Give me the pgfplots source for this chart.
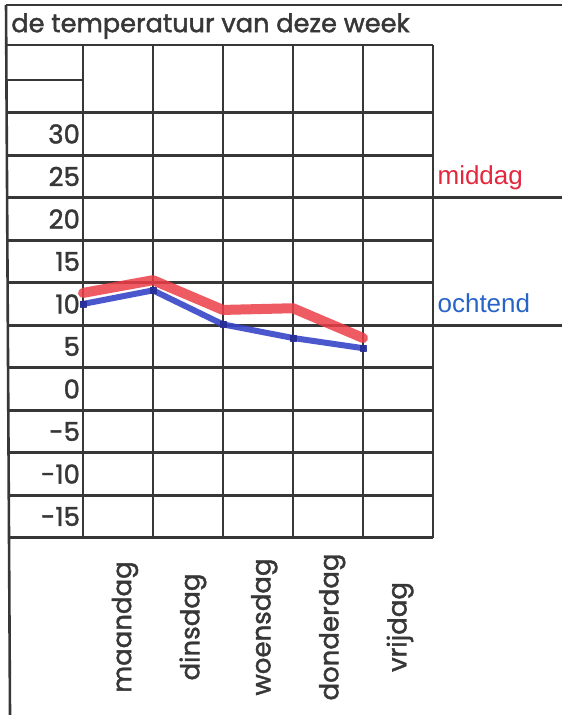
\documentclass[border=0pt]{standalone}
\usepackage{pgfplots}
\pgfplotsset{compat=1.18}
\usepackage{fontspec}
\setmainfont{Poppins}[FakeBold=1.6]
\newfontfamily\arialfont{Liberation Sans}
\definecolor{gridc}{RGB}{55,55,55}
\definecolor{txtc}{RGB}{55,55,55}
\definecolor{redline}{RGB}{236,62,72}
\definecolor{blueline}{RGB}{55,70,200}
\definecolor{bluemark}{RGB}{40,45,150}
\definecolor{redtxt}{RGB}{228,38,62}
\definecolor{bluetxt}{RGB}{40,100,200}
\begin{document}
\begin{tikzpicture}
\useasboundingbox (0,0) rectangle (281pt,357.5pt);
\begin{axis}[
  at={(0,0)}, anchor=south west,
  scale only axis, width=281pt, height=357.5pt,
  xmin=-1.186, xmax=6.843, ymin=-38.35, ymax=45.76,
  axis line style={draw=none},
  major tick length=0pt,
  clip=false,
  xtick={0.6,1.57,2.59,3.56,4.53},
  xticklabels={maandag,dinsdag,woensdag,donderdag,vrijdag},
  xticklabel style={yshift=44pt, rotate=90, anchor=center, text=txtc, font=\fontsize{13pt}{15pt}\selectfont},
  ytick={30,25,20,15,10,5,0,-5,-10,-15},
  yticklabels={30,25,20,15,10,5,0,-5,-10,-15},
  yticklabel style={anchor=east, xshift=43.5pt, text=txtc, font=\fontsize{13pt}{15pt}\selectfont},
]
% frame and grid
\draw[gridc, line width=1.3pt] (axis cs:-1.1,45.18) -- (axis cs:6.843,45.18);
\draw[gridc, line width=1.3pt] (axis cs:-1.1,45.18) -- (axis cs:-1.043,-38.35);
\draw[gridc, line width=1.3pt] (axis cs:-1.08,40.47) -- (axis cs:5,40.47);
\draw[gridc, line width=1.3pt] (axis cs:-1.08,36.35) -- (axis cs:0,36.35);
\pgfplotsinvokeforeach{32.5,27.5,17.5,12.5,2.5,-2.5,-7.5,-12.5,-17.5}{
  \draw[gridc, line width=1.3pt] (axis cs:-1.07,#1) -- (axis cs:5,#1);
}
\pgfplotsinvokeforeach{22.5,7.5}{
  \draw[gridc, line width=1.3pt] (axis cs:-1.07,#1) -- (axis cs:6.843,#1);
}
\pgfplotsinvokeforeach{0,1,2,3,4,5}{
  \draw[gridc, line width=1.3pt] (axis cs:#1,40.47) -- (axis cs:#1,-17.5);
}
% data
\addplot[redline, opacity=0.85, line width=5pt, line join=round, line cap=round] coordinates {
  (0,11.3) (1,12.8) (2,9.3) (3,9.5) (4,6.0)
};
\addplot[blueline, opacity=0.9, line width=3pt, line join=round, line cap=round,
  mark=square*, mark size=1.5pt, mark options={fill=bluemark, draw=bluemark, line width=0.4pt}] coordinates {
  (0,10.0) (1,11.6) (2,7.6) (3,6.0) (4,4.8)
};
% texts
\node[anchor=west, text=txtc, font=\fontsize{12.8pt}{15pt}\selectfont, inner sep=0pt] at (axis cs:-1.03,42.7) {de temperatuur van deze week};
\node[anchor=west, text=redtxt, font=\arialfont\fontsize{13pt}{15pt}\selectfont, inner sep=0pt] at (axis cs:5.06,24.9) {middag};
\node[anchor=west, text=bluetxt, font=\arialfont\fontsize{13pt}{15pt}\selectfont, inner sep=0pt] at (axis cs:5.06,10.1) {ochtend};
\end{axis}
\end{tikzpicture}
\end{document}
